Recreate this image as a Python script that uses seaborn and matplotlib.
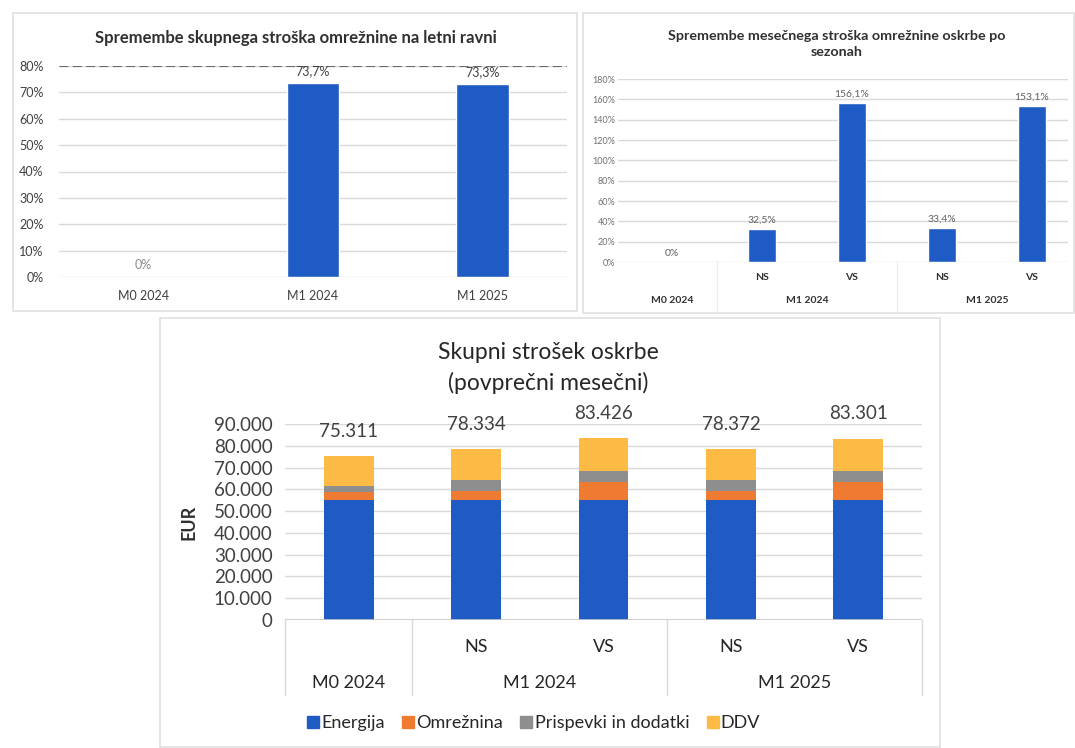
"""
Skupni strošek oskrbe - three Excel-style panels recreated with seaborn.
"""

import numpy as np
import pandas as pd
import matplotlib
matplotlib.use("Agg")
import matplotlib.pyplot as plt
from matplotlib.patches import Rectangle
from matplotlib.lines import Line2D
from matplotlib.ticker import FuncFormatter, MultipleLocator
import seaborn as sns

# --- data -----------------------------------------------------------------
annual_categories = ["M0 2024", "M1 2024", "M1 2025"]
annual_change = [0.0, 73.7, 73.3]

season_groups = ["M0 2024", "M1 2024", "M1 2025"]
season_labels = ["", "NS", "VS", "NS", "VS"]
season_change = [0.0, 32.5, 156.1, 33.4, 153.1]

components = ["Energija", "Omrežnina", "Prispevki in dodatki", "DDV"]
energija = [55000, 55000, 55000, 55000, 55000]
omreznina = [3800, 4300, 8400, 4400, 8500]
prispevki = [2930, 4908, 4982, 4839, 4779]
ddv = [13581, 14126, 15044, 14133, 15022]
totals = [75311, 78334, 83426, 78372, 83301]

BLUE = "#1F5BC4"
colors = {"Energija": BLUE, "Omrežnina": "#EF7B32",
          "Prispevki in dodatki": "#8E8E8E", "DDV": "#FDBA45"}
GRID = "#d9d9d9"
TXT = "#404040"

W, H = 1075, 748

sns.set_theme(style="white")
plt.rcParams["font.family"] = ["Lato", "DejaVu Sans"]


def box(x0, y0, x1, y1):
    """Pixel box (top-left origin) -> figure fraction rect."""
    return [x0 / W, 1 - y1 / H, (x1 - x0) / W, (y1 - y0) / H]


def pct(v):
    return "0%" if v == 0 else f"{v:.1f}%".replace(".", ",")


def panel(fig, x0, y0, x1, y1):
    fig.add_artist(Rectangle((x0 / W, 1 - y1 / H), (x1 - x0) / W, (y1 - y0) / H,
                             transform=fig.transFigure, fill=False,
                             ec="#e0e0e0", lw=1.2))


def below(ax, x, px, text, **kw):
    ax.annotate(text, xy=(x, 0), xycoords=ax.get_xaxis_transform(),
                xytext=(0, -px * 0.72), textcoords="offset points",
                ha="center", va="center", annotation_clip=False, **kw)


def separators(ax, bounds, px, color=GRID):
    for b in bounds:
        ax.plot([b, b], [0, -px], transform=ax.get_xaxis_transform(),
                clip_on=False, color=color, lw=1)


fig = plt.figure(figsize=(W / 100, H / 100), dpi=100)
fig.patch.set_facecolor("white")

panel(fig, 13, 13, 577, 311)
panel(fig, 583, 13, 1074, 313)
panel(fig, 160, 318, 940, 747)

# --- top left: annual change ----------------------------------------------
ax1 = fig.add_axes(box(59, 66, 567, 277))
df1 = pd.DataFrame({"cat": annual_categories, "val": annual_change})
sns.barplot(data=df1, x="cat", y="val", color=BLUE, width=0.31,
            saturation=1, ax=ax1)
ax1.set_xlim(-0.5, 2.5)
ax1.set_ylim(0, 80)
ax1.yaxis.set_major_locator(MultipleLocator(10))
ax1.yaxis.set_major_formatter(FuncFormatter(lambda v, p: f"{v:.0f}%"))
ax1.grid(axis="y", color=GRID, lw=1)
ax1.set_axisbelow(True)
ax1.axhline(80, color="#6a6a6a", lw=0.8, ls=(0, (8, 4)))
sns.despine(ax=ax1, left=True, bottom=True)
ax1.set_xlabel("")
ax1.set_ylabel("")
ax1.tick_params(axis="y", length=0, pad=11, labelsize=9, labelcolor=TXT)
ax1.tick_params(axis="x", length=0, pad=9, labelsize=9, labelcolor=TXT)
for i, v in enumerate(annual_change):
    ax1.annotate(pct(v), (i, v), xytext=(0, 4), textcoords="offset points",
                 ha="center", va="bottom", fontsize=9,
                 color=TXT if v else "#8a8a8a", annotation_clip=False)
fig.text(296 / W, 1 - 38 / H,
         "Spremembe skupnega stroška omrežnine na letni ravni",
         ha="center", va="center", fontsize=12, fontweight="bold",
         color="#303030")

# --- top right: seasonal change -------------------------------------------
ax2 = fig.add_axes(box(618, 79, 1068, 262))
df2 = pd.DataFrame({"pos": np.arange(len(season_change)), "val": season_change})
sns.barplot(data=df2, x="pos", y="val", color=BLUE, width=0.31,
            saturation=1, ax=ax2)
ax2.set_xlim(-0.6, 4.4)
ax2.set_ylim(0, 180)
ax2.yaxis.set_major_locator(MultipleLocator(20))
ax2.yaxis.set_major_formatter(FuncFormatter(lambda v, p: f"{v:.0f}%"))
ax2.grid(axis="y", color=GRID, lw=1)
ax2.set_axisbelow(True)
sns.despine(ax=ax2, left=True, bottom=True)
ax2.set_xlabel("")
ax2.set_ylabel("")
ax2.set_xticks([])
ax2.tick_params(axis="y", length=0, pad=2, labelsize=6.5, labelcolor="#707070")
for i, v in enumerate(season_change):
    ax2.annotate(pct(v), (i, v), xytext=(0, 3), textcoords="offset points",
                 ha="center", va="bottom", fontsize=7.5, color="#606060",
                 annotation_clip=False)
for i, lab in enumerate(season_labels):
    below(ax2, i, 15, lab, fontsize=7.5, fontweight="bold", color="#303030")
for g, x in zip(season_groups, [0, 1.5, 3.5]):
    below(ax2, x, 38, g, fontsize=7.5, fontweight="bold", color="#303030")
separators(ax2, [0.5, 2.5], 0.27, color="#ececec")
fig.text(837 / W, 1 - 44 / H,
         "Spremembe mesečnega stroška omrežnine oskrbe po\nsezonah",
         ha="center", va="center", fontsize=10.3, fontweight="bold",
         color="#303030", linespacing=1.3)

# --- bottom: stacked total cost -------------------------------------------
ax3 = fig.add_axes(box(285, 424, 922, 620))
long = pd.DataFrame({
    "pos": np.tile(np.arange(len(totals)), len(components)),
    "component": np.repeat(components, len(totals)),
    "value": energija + omreznina + prispevki + ddv,
})
sns.histplot(data=long, x="pos", weights="value", hue="component",
             hue_order=components[::-1], multiple="stack", discrete=True,
             shrink=0.39, palette=colors, alpha=1, linewidth=0,
             legend=False, ax=ax3)
ax3.set_xlim(-0.5, 4.5)
ax3.set_ylim(0, 90000)
ax3.yaxis.set_major_locator(MultipleLocator(10000))
ax3.yaxis.set_major_formatter(
    FuncFormatter(lambda v, p: f"{v:,.0f}".replace(",", ".")))
ax3.grid(axis="y", color=GRID, lw=1)
ax3.set_axisbelow(True)
ax3.axhline(0, color="#c8c8c8", lw=1.2)
sns.despine(ax=ax3, left=True, bottom=True)
ax3.set_xlabel("")
ax3.set_xticks([])
ax3.set_ylabel("EUR", fontsize=13, fontweight="bold", color="#303030")
ax3.yaxis.set_label_coords(-0.138, 0.5)
ax3.tick_params(axis="y", length=0, pad=9, labelsize=13.5, labelcolor=TXT)
for i, t in enumerate(totals):
    ax3.annotate(f"{t:,}".replace(",", "."), (i, t), xytext=(0, 14),
                 textcoords="offset points", ha="center", va="baseline",
                 fontsize=13.5, color=TXT, annotation_clip=False)
for i, lab in enumerate(season_labels):
    below(ax3, i, 27, lab, fontsize=13, color="#262626")
for g, x in zip(season_groups, [0, 1.5, 3.5]):
    below(ax3, x, 63, g, fontsize=13, color="#262626")
separators(ax3, [-0.5, 0.5, 2.5, 4.5], 0.383)
fig.text(548 / W, 1 - 368 / H, "Skupni strošek oskrbe\n(povprečni mesečni)",
         ha="center", va="center", fontsize=16.5, color="#262626",
         linespacing=1.45)

handles = [Line2D([], [], marker="s", ls="", color=colors[c], markersize=8)
           for c in components]
fig.legend(handles, components, loc="center", ncol=4, frameon=False,
           bbox_to_anchor=(533 / W, 1 - 723 / H), fontsize=13,
           handletextpad=0.05, columnspacing=0.9, handlelength=0.8,
           labelcolor="#262626")

fig.savefig("out.png", dpi=100, facecolor="white")
